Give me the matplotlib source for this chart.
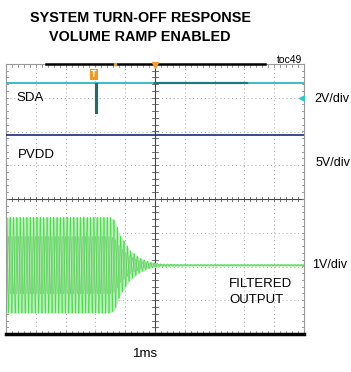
import numpy as np
import matplotlib
matplotlib.use("Agg")
import matplotlib.pyplot as plt

# ---- data (time in ms relative to screen left, 1 ms/div) ----
time_ms = np.linspace(0, 10, 8000)

# SDA channel (2 V/div)
sda_high_v = 1.8
sda_low_v = 0.0
sda_pulse_ms = [2.99, 3.06]          # short low pulse
sda_dark_span_ms = [5.0, 8.1]        # dense activity segment

# PVDD channel (5 V/div)
pvdd_v = 9.5

# Filtered output envelope (1 V/div)
env_t_ms = [0.0, 3.5, 3.65, 3.83, 4.16, 4.5, 4.83, 5.2, 6.0, 10.0]
env_amp_v = [1.42, 1.42, 1.33, 0.89, 0.44, 0.21, 0.09, 0.04, 0.02, 0.02]
carrier_cycles_per_ms = 8.9

labels_left = ["SDA", "PVDD"]
scales = ["2V/div", "5V/div", "1V/div"]
time_label = "1ms"

# ---- figure ----
W, H = 351, 372
fig = plt.figure(figsize=(W / 100, H / 100), dpi=100)
ax = fig.add_axes([6 / W, 38 / H, 298 / W, 270 / H])
ax.set_xlim(0, 10)
ax.set_ylim(-4, 4)
ax.set_xticks([])
ax.set_yticks([])
for s in ax.spines.values():
    s.set_color("#999999")
    s.set_linewidth(0.8)
ax.spines["bottom"].set_color("black")
ax.spines["bottom"].set_linewidth(2.5)

# grid
for gx in range(1, 10):
    if gx != 5:
        ax.plot([gx, gx], [-4, 4], color="#aaaaaa", lw=0.7, ls=(0, (1, 3)), zorder=1)
for gy in range(-3, 4):
    if gy != 0:
        ax.plot([0, 10], [gy, gy], color="#aaaaaa", lw=0.7, ls=(0, (1, 3)), zorder=1)
ax.axvline(5, color="#444444", lw=0.8, zorder=1)
ax.axhline(0, color="#444444", lw=0.8, zorder=1)
# minor ticks on center lines and borders
mx = np.arange(0.2, 10, 0.2)
my = np.arange(-3.8, 4, 0.2)
for x in mx:
    ax.plot([x, x], [-0.06, 0.06], color="#555555", lw=0.6, zorder=1)
    ax.plot([x, x], [3.92, 4], color="#888888", lw=0.6, zorder=1)
    ax.plot([x, x], [-4, -3.92], color="#888888", lw=0.6, zorder=1)
for y in my:
    ax.plot([4.9, 5.1], [y, y], color="#555555", lw=0.6, zorder=1)
    ax.plot([0, 0.08], [y, y], color="#888888", lw=0.6, zorder=1)
    ax.plot([9.92, 10], [y, y], color="#888888", lw=0.6, zorder=1)

# top border accent
ax.plot([1.35, 8.7], [4, 4], color="black", lw=1.8, clip_on=False, zorder=3)
ax.plot([3.65], [4.0], marker="s", ms=2, color="#f0a030", clip_on=False, zorder=4)
ax.plot([5.0], [3.97], marker="v", ms=4, color="#f0a030", clip_on=False, zorder=4)

# ---- SDA ----
sda_off = 2.55
sda_scale = 2.0
ax.plot([0, 10], [sda_off + sda_high_v / sda_scale] * 2, color="#2bb8c4", lw=1.3, zorder=3)
ax.plot(sda_dark_span_ms, [sda_off + sda_high_v / sda_scale] * 2, color="#1e7a78", lw=1.6, zorder=3)
ax.fill_between(sda_pulse_ms, sda_off + sda_low_v / sda_scale, sda_off + sda_high_v / sda_scale,
                color="#1e6e6a", lw=0.8, edgecolor="#1e6e6a", zorder=3)
ax.text(2.95, 3.68, "T", ha="center", va="center", fontsize=5.5, color="white",
        family="DejaVu Sans", fontweight="bold",
        bbox=dict(boxstyle="square,pad=0.12", fc="#f09a20", ec="none"), zorder=5)
ax.plot([9.93], [3.0], marker="<", ms=4, color="#2bc8d8", zorder=4)

# ---- PVDD ----
pvdd_scale = 5.0
ax.plot([0, 10], [pvdd_v / pvdd_scale] * 2, color="#1a2a80", lw=1.2, zorder=3)

# ---- Filtered output ----
out_off = -1.96
env = np.interp(time_ms, env_t_ms, env_amp_v)
sig = env * np.sin(2 * np.pi * carrier_cycles_per_ms * time_ms)
ax.plot([0, 10], [out_off, out_off], color="#22cc22", lw=1.0, zorder=1.5)
ax.fill_between(time_ms, out_off - env, out_off + env, color="#c2ecc2", lw=0, zorder=2)
ax.plot(time_ms, out_off + sig, color="#33dd33", lw=0.5, alpha=0.85, zorder=2)
ax.plot(time_ms, out_off - 0.6 * sig, color="#3a9a3a", lw=0.35, alpha=0.45, zorder=2)

# ---- texts ----
fam = ["Liberation Sans", "DejaVu Sans"]
fig.text(140 / W, 1 - 18 / H, "SYSTEM TURN-OFF RESPONSE", ha="center", va="center",
         fontsize=10.4, fontweight="bold", family=fam)
fig.text(140 / W, 1 - 37 / H, "VOLUME RAMP ENABLED", ha="center", va="center",
         fontsize=10.4, fontweight="bold", family=fam)
fig.text(302 / W, 1 - 60 / H, "toc49", ha="right", va="center", fontsize=7.5, family=fam)
fig.text(16 / W, 1 - 98 / H, labels_left[0], ha="left", va="center", fontsize=9.5, family=fam)
fig.text(18 / W, 1 - 155 / H, labels_left[1], ha="left", va="center", fontsize=9.5, family=fam)
fig.text(229 / W, 1 - 284 / H, "FILTERED", ha="left", va="center", fontsize=9.5, family=fam)
fig.text(229 / W, 1 - 300 / H, "OUTPUT", ha="left", va="center", fontsize=9.5, family=fam)
fig.text(314 / W, 1 - 99 / H, scales[0], ha="left", va="center", fontsize=9, family=fam)
fig.text(316 / W, 1 - 163 / H, scales[1], ha="left", va="center", fontsize=9, family=fam)
fig.text(312 / W, 1 - 265 / H, scales[2], ha="left", va="center", fontsize=9, family=fam)
fig.text(146 / W, 1 - 354 / H, time_label, ha="center", va="center", fontsize=9.5, family=fam)

fig.savefig("out.png", dpi=100, facecolor="white")
